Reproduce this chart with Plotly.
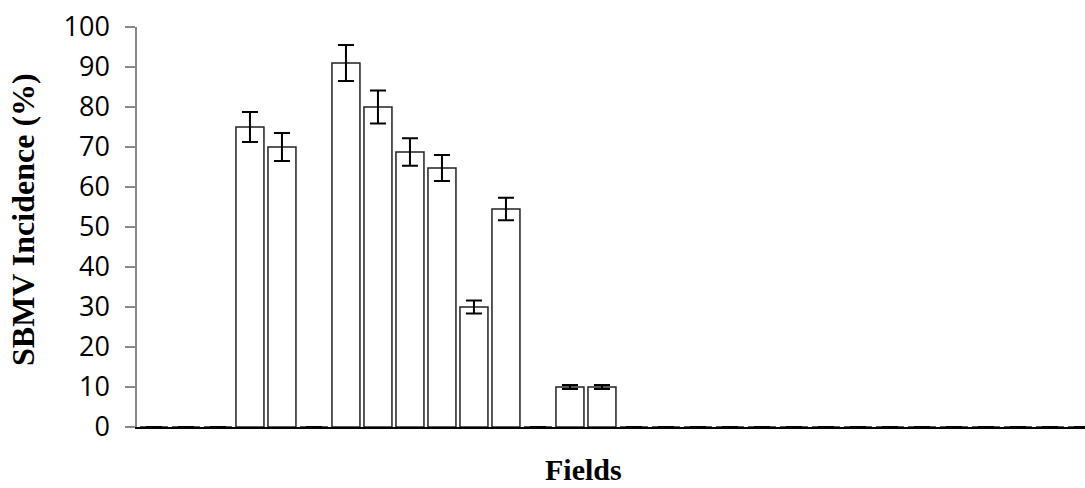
import plotly.graph_objects as go

fields = [f"F{i}" for i in range(1, 31)]
incidence = [0, 0, 0, 75, 70, 0, 91, 80, 68.75, 64.75, 30, 54.5, 0, 10, 10,
             0, 0, 0, 0, 0, 0, 0, 0, 0, 0, 0, 0, 0, 0, 0]
errors = [0, 0, 0, 3.75, 3.5, 0, 4.5, 4.1, 3.45, 3.25, 1.6, 2.8, 0, 0.5, 0.5,
          0, 0, 0, 0, 0, 0, 0, 0, 0, 0, 0, 0, 0, 0, 0]
y_ticks = list(range(0, 101, 10))

L, R, T, B = 137, 0, 27, 61
W, H = 1085, 488
pw, ph = W - L - R, H - T - B

fig = go.Figure()
fig.add_trace(go.Bar(
    x=fields, y=incidence,
    marker=dict(color="white", line=dict(color="#222222", width=1.5)),
    error_y=dict(type="data", array=errors, visible=True, color="black",
                 thickness=2, width=8),
))

fig.update_layout(
    width=W, height=H,
    margin=dict(l=L, r=R, t=T, b=B),
    paper_bgcolor="white", plot_bgcolor="white",
    bargap=0.125, showlegend=False,
    font=dict(family="Open Sans", color="black"),
)
fig.update_xaxes(
    range=[-0.53, -0.53 + pw / 32],
    showticklabels=False, ticks="", showgrid=False,
    showline=True, linecolor="black", linewidth=2,
)
fig.update_yaxes(
    range=[0, 100], tickvals=y_ticks, showgrid=False, zeroline=False,
    showline=True, linecolor="#888888", linewidth=1.5,
    ticks="outside", ticklen=10, tickcolor="#888888", tickwidth=1.5,
    ticklabelstandoff=10,
    tickfont=dict(family="Open Sans", size=27),
)
fig.add_annotation(
    text="<b>Fields</b>", xref="paper", yref="paper",
    x=(583 - L) / pw, y=0, xanchor="center", yanchor="bottom", yshift=-60,
    borderpad=0, showarrow=False,
    font=dict(family="Liberation Serif", size=30, color="black"),
)
fig.add_annotation(
    text="<b>SBMV Incidence (%)</b>", xref="paper", yref="paper",
    x=-(L - 23) / pw, y=(H - B - 220) / ph, xanchor="center", yanchor="middle",
    textangle=-90, showarrow=False,
    font=dict(family="Liberation Serif", size=32, color="black"),
)

fig.write_html("out.html")
